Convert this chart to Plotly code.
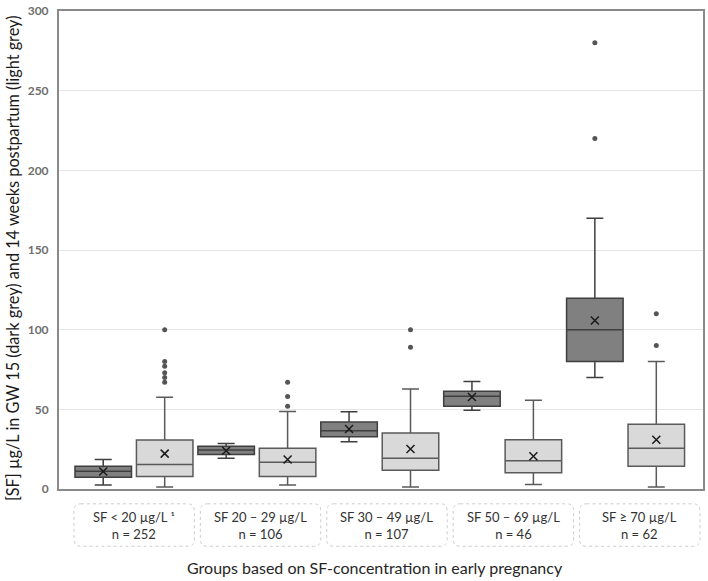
import plotly.graph_objects as go

# ---------------- data ----------------
groups = ["SF < 20 µg/L ¹", "SF 20 – 29 µg/L", "SF 30 – 49 µg/L", "SF 50 – 69 µg/L", "SF ≥ 70 µg/L"]
group_n = [252, 106, 107, 46, 62]

# GW 15 (dark grey)
gw_q1 = [7.3, 21.6, 32.8, 52.0, 80.0]
gw_median = [11.2, 24.4, 36.5, 58.2, 100.0]
gw_q3 = [14.2, 26.8, 42.1, 61.3, 119.7]
gw_low = [2.5, 19.3, 29.7, 49.5, 70.0]
gw_high = [18.5, 28.6, 48.5, 67.5, 170.0]
gw_mean = [11.0, 24.0, 37.6, 57.8, 105.8]
gw_outliers = [[], [], [], [], [280, 220]]

# 14 weeks postpartum (light grey)
pp_q1 = [7.9, 7.9, 11.7, 10.2, 14.3]
pp_median = [15.4, 16.8, 19.3, 17.7, 25.5]
pp_q3 = [30.7, 25.5, 35.1, 30.9, 40.7]
pp_low = [1.3, 2.5, 1.3, 2.8, 1.3]
pp_high = [57.6, 48.7, 62.8, 55.7, 80.0]
pp_mean = [22.2, 18.5, 25.1, 20.5, 30.9]
pp_outliers = [[100, 80, 77, 73, 70, 67], [67, 58, 52], [100, 89], [], [110, 90]]

y_ticks = [0, 50, 100, 150, 200, 250, 300]

# ---------------- layout params ----------------
OFF = 0.25
BW = 0.46
idx = list(range(len(groups)))
x_dark = [i - OFF for i in idx]
x_light = [i + OFF for i in idx]

DARK_FILL = "#808080"
DARK_LINE = "#3f3f3f"
LIGHT_FILL = "#d9d9d9"
LIGHT_LINE = "#5a5a5a"

fig = go.Figure()

fig.add_trace(go.Box(
    x=x_dark, q1=gw_q1, median=gw_median, q3=gw_q3,
    lowerfence=gw_low, upperfence=gw_high,
    width=BW, whiskerwidth=0.3, boxpoints=False,
    fillcolor=DARK_FILL, line=dict(color=DARK_LINE, width=1.5),
    showlegend=False,
))
fig.add_trace(go.Box(
    x=x_light, q1=pp_q1, median=pp_median, q3=pp_q3,
    lowerfence=pp_low, upperfence=pp_high,
    width=BW, whiskerwidth=0.3, boxpoints=False,
    fillcolor=LIGHT_FILL, line=dict(color=LIGHT_LINE, width=1.5),
    showlegend=False,
))

# means (x markers)
fig.add_trace(go.Scatter(
    x=x_dark + x_light, y=gw_mean + pp_mean, mode="markers",
    marker=dict(symbol="x-thin", size=8, line=dict(color="#1a1a1a", width=1.5)),
    showlegend=False,
))

# outliers
ox, oy = [], []
for i, pts in enumerate(gw_outliers):
    ox += [x_dark[i]] * len(pts)
    oy += pts
for i, pts in enumerate(pp_outliers):
    ox += [x_light[i]] * len(pts)
    oy += pts
fig.add_trace(go.Scatter(
    x=ox, y=oy, mode="markers",
    marker=dict(symbol="circle", size=5, color="#555555"),
    showlegend=False,
))

# category label boxes below the plot (evenly spread in paper space)
PW, PH = 646, 484
shapes = []
annotations = []
rx, ry = 7 / PW, 7 / PH
bx_left, bx_right, gap = (74 - 59) / PW, (702 - 59) / PW, 6 / PW
bw = (bx_right - bx_left - 4 * gap) / 5
y0, y1 = (489 - 547) / PH, (489 - 504) / PH
for i, (g, n) in enumerate(zip(groups, group_n)):
    xa = bx_left + i * (bw + gap)
    xb = xa + bw
    path = (f"M {xa+rx},{y1} L {xb-rx},{y1} Q {xb},{y1} {xb},{y1-ry} "
            f"L {xb},{y0+ry} Q {xb},{y0} {xb-rx},{y0} L {xa+rx},{y0} "
            f"Q {xa},{y0} {xa},{y0+ry} L {xa},{y1-ry} Q {xa},{y1} {xa+rx},{y1} Z")
    shapes.append(dict(type="path", path=path, xref="paper", yref="paper",
                       line=dict(color="#cccccc", width=1, dash="dot"),
                       fillcolor="rgba(0,0,0,0)", layer="above"))
    annotations.append(dict(x=(xa + xb) / 2, y=(y0 + y1) / 2, xref="paper", yref="paper",
                            text=f"{g}<br>n = {n}", showarrow=False,
                            font=dict(family="Lato", size=13, color="#333333"),
                            xanchor="center", yanchor="middle", align="center"))

annotations.append(dict(x=(376 - 59) / PW, y=(489 - 568) / PH, xref="paper", yref="paper",
                        text="Groups based on SF-concentration in early pregnancy",
                        showarrow=False, xanchor="center", yanchor="middle",
                        font=dict(family="Lato", size=16, color="#262626")))
annotations.append(dict(x=(13 - 59) / PW, y=(489 - 255) / PH, xref="paper", yref="paper",
                        text="[SF] µg/L in GW 15 (dark grey) and 14 weeks postpartum (light grey)",
                        showarrow=False, textangle=-90, xanchor="center", yanchor="middle",
                        font=dict(family="Lato", size=16.3, color="#1a1a1a")))

fig.update_layout(
    width=708, height=581,
    margin=dict(l=59, r=3, t=5, b=92),
    paper_bgcolor="white", plot_bgcolor="white",
    shapes=shapes, annotations=annotations,
    xaxis=dict(range=[-0.61, 4.63], showticklabels=False, showgrid=False,
               zeroline=False, showline=True, mirror=True,
               linecolor="#8a8a8a", linewidth=2, ticks=""),
    yaxis=dict(range=[0, 300], tickvals=y_ticks, showgrid=True, gridcolor="#e6e6e6",
               gridwidth=1, zeroline=False, showline=True, mirror=True,
               linecolor="#8a8a8a", linewidth=2, ticks="", ticklabelstandoff=6,
               ticklabeloverflow="allow",
               tickfont=dict(family="Lato", size=12, color="#6e6e6e", weight="bold")),
)

fig.write_html("out.html", config={"displayModeBar": False},
               post_script="document.body.style.margin='0';document.body.style.overflow='hidden';")
